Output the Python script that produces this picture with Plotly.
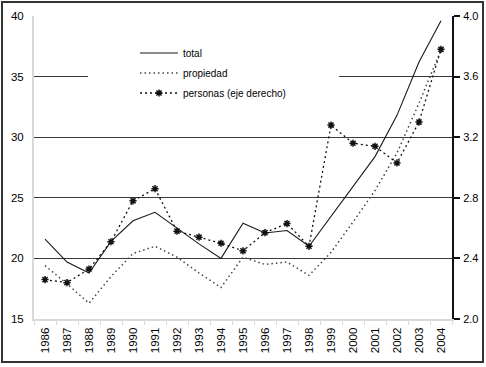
import plotly.graph_objects as go

years = [str(y) for y in range(1986, 2005)]
total = [21.6, 19.7, 18.8, 21.4, 23.1, 23.8, 22.5, 21.2, 20.0, 22.9,
         22.1, 22.3, 21.0, 23.5, 26.0, 28.4, 31.8, 36.2, 39.6]
propiedad = [19.4, 17.9, 16.3, 18.5, 20.4, 21.0, 20.1, 18.8, 17.6, 20.1,
             19.5, 19.7, 18.6, 20.5, 23.0, 25.6, 28.7, 32.8, 37.2]
personas = [2.26, 2.24, 2.33, 2.51, 2.78, 2.86, 2.58, 2.54, 2.50, 2.45,
            2.57, 2.63, 2.48, 3.28, 3.16, 3.14, 3.03, 3.30, 3.78]

left_ticks = [15, 20, 25, 30, 35, 40]
right_ticks = [2.0, 2.4, 2.8, 3.2, 3.6, 4.0]

FONT = "Liberation Sans, Arial, sans-serif"

fig = go.Figure()
fig.add_trace(go.Scatter(
    x=years, y=total, name="total", mode="lines",
    line=dict(color="#1a1a1a", width=1.1), legendgroup="a"))
fig.add_trace(go.Scatter(
    x=years, y=propiedad, name="propiedad", mode="lines",
    line=dict(color="#444444", width=1.5, dash="1.5px,3px"), legendgroup="b"))
fig.add_trace(go.Scatter(
    x=years, y=personas, name="personas (eje derecho)", mode="lines+markers",
    yaxis="y2",
    line=dict(color="#111111", width=1.3, dash="2px,3px"),
    marker=dict(symbol="asterisk-open", size=6, color="#111111",
                line=dict(color="#111111", width=1.5)),
    legendgroup="c"))

W, H = 486, 367
L, R, T, B = 34, 34, 16, 48
pw, ph = W - L - R, H - T - B

def px_x(p):
    return (p - L) / pw

def px_y(p):
    return (H - B - p) / ph

fig.update_layout(
    width=W, height=H,
    margin=dict(l=L, r=R, t=T, b=B, autoexpand=False),
    paper_bgcolor="white", plot_bgcolor="white",
    font=dict(family=FONT, size=10, color="#000000"),
    showlegend=True,
    legend=dict(x=px_x(135), y=px_y(38.5), xanchor="left", yanchor="top",
                bgcolor="rgba(0,0,0,0)", font=dict(size=10, family=FONT),
                itemwidth=38, tracegroupgap=1, traceorder="grouped"),
    xaxis=dict(type="category", tickangle=-90, tickfont=dict(size=11.5),
               showline=True, linecolor="#d9d9d9", linewidth=2,
               ticks="outside", tickson="boundaries", ticklen=4,
               tickcolor="#d9d9d9", showgrid=False, range=[-0.5, 18.5],
               ticklabelstandoff=2),
    yaxis=dict(range=[15, 40], tickvals=left_ticks,
               ticktext=[str(v) for v in left_ticks],
               showgrid=True, gridcolor="#3a3a3a", gridwidth=1.3,
               showline=True, linecolor="#d9d9d9", linewidth=2,
               ticks="", zeroline=False, tickfont=dict(size=11.5),
               ticklabelstandoff=6),
    yaxis2=dict(range=[2.0, 4.0], tickvals=right_ticks,
                ticktext=[f"{v:.1f}" for v in right_ticks],
                overlaying="y", side="right", showgrid=False,
                showline=True, linecolor="#111111", linewidth=2,
                ticks="outside", ticklen=6, tickcolor="#111111",
                tickwidth=1.5, zeroline=False, tickfont=dict(size=11),
                ticklabelstandoff=1),
    shapes=[
        dict(type="rect", xref="paper", yref="paper",
             x0=px_x(88), x1=px_x(339), y0=px_y(110), y1=px_y(35),
             fillcolor="white", line=dict(width=0), layer="above"),
        dict(type="rect", xref="paper", yref="paper",
             x0=px_x(2), x1=px_x(483), y0=px_y(362), y1=px_y(2),
             fillcolor="rgba(0,0,0,0)", line=dict(color="#333333", width=2),
             layer="above"),
    ],
)

fig.write_html("out.html",
               config={"displayModeBar": False},
               post_script="document.body.style.margin='0';")
